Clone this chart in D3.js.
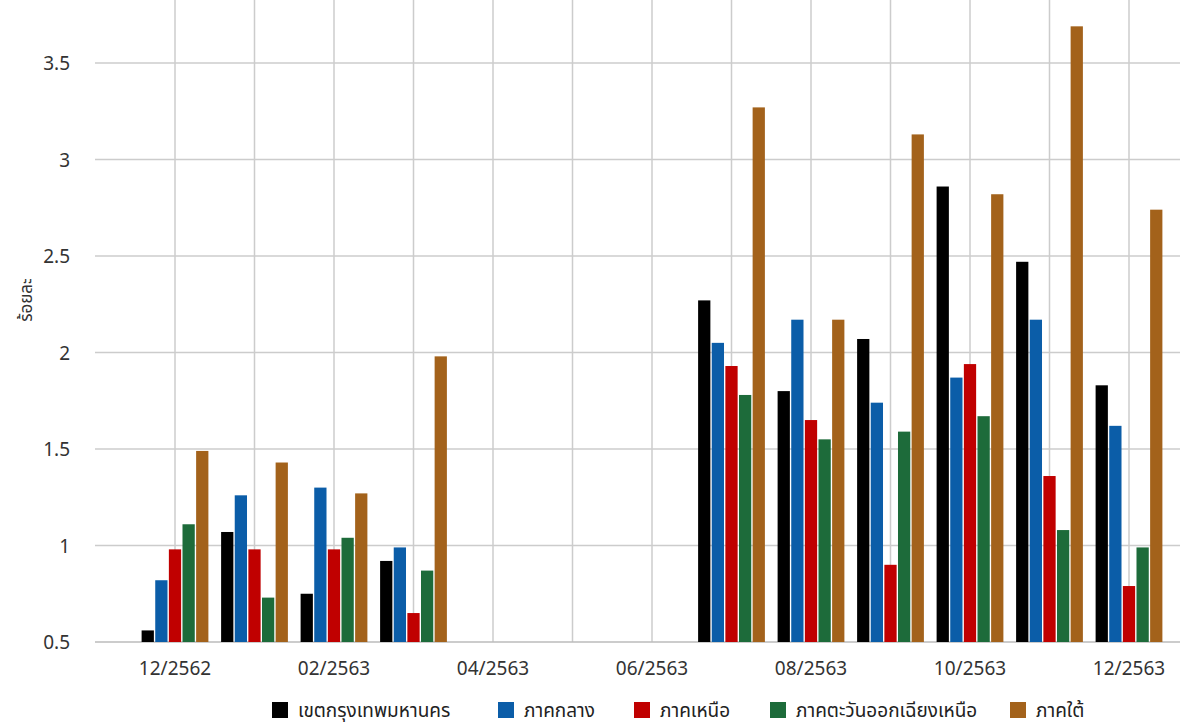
<!DOCTYPE html>
<html><head><meta charset="utf-8">
<script src="https://cdn.jsdelivr.net/npm/d3@7"></script>
<style>body{margin:0;background:#fff;font-family:"Noto Sans","Noto Sans Thai",sans-serif;}</style>
</head><body><div id="chart"></div>
<script>
var months = ["12/2562","01/2563","02/2563","03/2563","04/2563","05/2563","06/2563","07/2563","08/2563","09/2563","10/2563","11/2563","12/2563"];
var tickLabels = ["12/2562","02/2563","04/2563","06/2563","08/2563","10/2563","12/2563"];
var seriesNames = ["เขตกรุงเทพมหานคร","ภาคกลาง","ภาคเหนือ","ภาคตะวันออกเฉียงเหนือ","ภาคใต้"];
var colors = ["#000000","#0b5da8","#c00000","#1d6b3a","#a3621b"];
var bangkok = [0.56,1.07,0.75,0.92,null,null,null,2.27,1.80,2.07,2.86,2.47,1.83];
var central = [0.82,1.26,1.30,0.99,null,null,null,2.05,2.17,1.74,1.87,2.17,1.62];
var north   = [0.98,0.98,0.98,0.65,null,null,null,1.93,1.65,0.90,1.94,1.36,0.79];
var northeast=[1.11,0.73,1.04,0.87,null,null,null,1.78,1.55,1.59,1.67,1.08,0.99];
var south   = [1.49,1.43,1.27,1.98,null,null,null,3.27,2.17,3.13,2.82,3.69,2.74];
var series = [bangkok,central,north,northeast,south];

var W = 1194, H = 726;
var margin = {top: 0, left: 95, right: 14, bottom: 84};
var svg = d3.select("#chart").append("svg").attr("width", W).attr("height", H);

var y = d3.scaleLinear().domain([0.5, 3.78]).range([642, 642 - 3.28 * 193]);
var x = d3.scalePoint().domain(months).range([175, 1129]);
var step = x.step();
var x1 = d3.scaleBand().domain(d3.range(5)).range([-step * 0.42, step * 0.42]).paddingInner(0.1);

// grid
svg.append("g").selectAll("line").data([1,1.5,2,2.5,3,3.5]).enter().append("line")
  .attr("x1", margin.left).attr("x2", W - margin.right)
  .attr("y1", d => y(d)).attr("y2", d => y(d))
  .attr("stroke", "#cccccc").attr("stroke-width", 1.5);
svg.append("g").selectAll("line").data(months).enter().append("line")
  .attr("x1", d => x(d)).attr("x2", d => x(d))
  .attr("y1", 0).attr("y2", 642)
  .attr("stroke", "#cccccc").attr("stroke-width", 1.5);
svg.append("line").attr("x1", margin.left).attr("x2", W - margin.right)
  .attr("y1", 642).attr("y2", 642).attr("stroke", "#bbbbbb").attr("stroke-width", 1.5);

// y ticks
svg.append("g").selectAll("text").data([0.5,1,1.5,2,2.5,3,3.5]).enter().append("text")
  .attr("x", 70).attr("y", d => y(d) + 7).attr("text-anchor", "end")
  .attr("font-size", 19).attr("fill", "#333").text(d => d);
svg.append("text").attr("transform", "translate(32,300) rotate(-90)")
  .attr("text-anchor", "middle").attr("font-size", 17).attr("fill", "#333").text("ร้อยละ");

// x ticks
svg.append("g").selectAll("text").data(tickLabels).enter().append("text")
  .attr("x", d => x(d)).attr("y", 675).attr("text-anchor", "middle")
  .attr("font-size", 19).attr("fill", "#333").text(d => d);

// bars
series.forEach(function(vals, si) {
  svg.append("g").selectAll("rect").data(vals.map((v, i) => ({m: months[i], v: v})).filter(d => d.v != null))
    .enter().append("rect")
    .attr("x", d => x(d.m) + x1(si))
    .attr("width", x1.bandwidth())
    .attr("y", d => y(d.v))
    .attr("height", d => 642 - y(d.v))
    .attr("fill", colors[si]);
});

// legend
var legendX = [272, 498, 634, 770, 1010];
seriesNames.forEach(function(n, i) {
  var g = svg.append("g").attr("transform", "translate(" + legendX[i] + ",710)");
  g.append("rect").attr("x", 0).attr("y", -8).attr("width", 16).attr("height", 16).attr("fill", colors[i]);
  g.append("text").attr("x", 26).attr("y", 7).attr("font-size", 19).attr("fill", "#222").text(n);
});
</script></body></html>
